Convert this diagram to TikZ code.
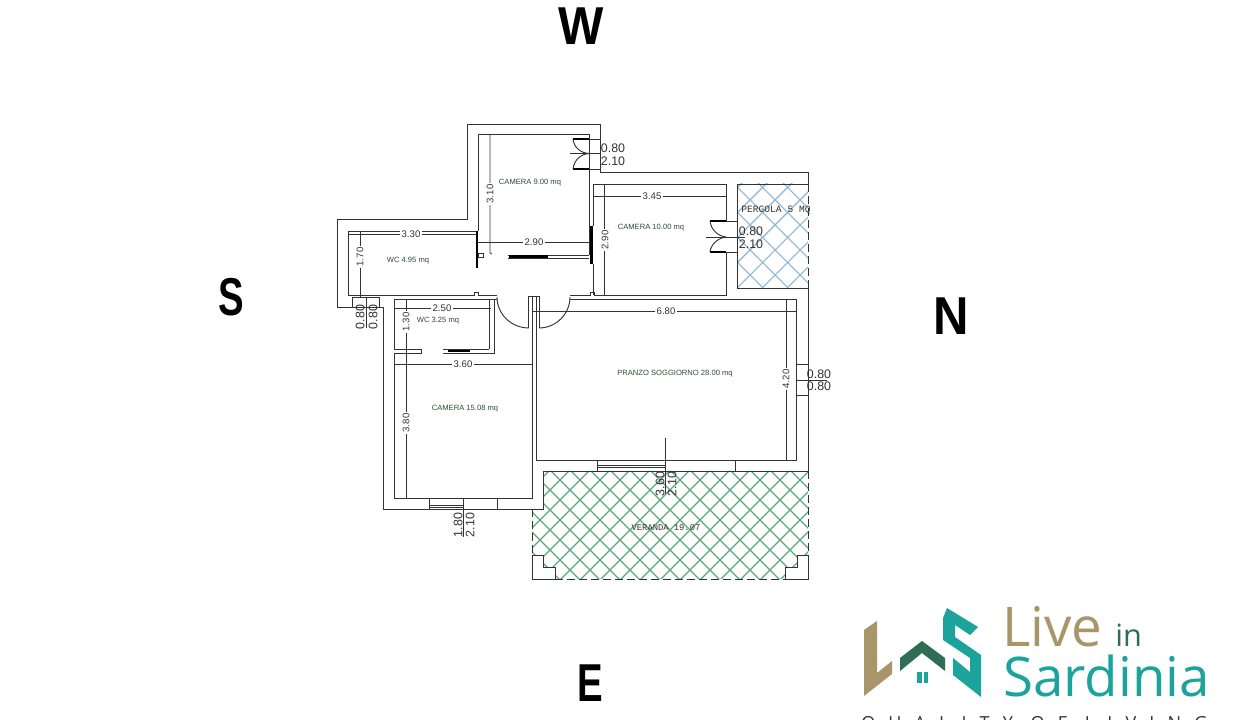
\documentclass[tikz,border=0pt]{standalone}
\usepackage{xcolor}
\usepackage{fontspec}
\setmainfont{Liberation Sans}
\newfontfamily\cadfont{Liberation Mono}
\newfontfamily\logofont{Open Sans}
\definecolor{roomtext}{HTML}{2F4B3A}
\definecolor{wallgray}{HTML}{333333}
\definecolor{pergolablue}{HTML}{8DB6D6}
\definecolor{verandagreen}{HTML}{5BA87C}
\definecolor{logogold}{HTML}{A8956A}
\definecolor{logoteal}{HTML}{1BA39C}
\definecolor{logogreen}{HTML}{2F6D55}
\tikzset{
    wall/.style={draw=wallgray,line width=0.7pt},
    thinline/.style={draw=wallgray,line width=0.55pt},
    thickbar/.style={draw=black,line width=1.8pt},
    dashedge/.style={draw=wallgray,line width=0.7pt,dash pattern=on 6pt off 3pt},
    dimlabel/.style={font=\fontsize{7.2}{8}\selectfont,text=wallgray,fill=white,inner sep=1.5pt},
    doorlabel/.style={font=\fontsize{9.3}{10}\selectfont,text=wallgray,inner sep=0pt},
    roomlabel/.style={font=\fontsize{5.7}{7}\selectfont,text=roomtext,inner sep=0pt},
    cadlabel/.style={font=\cadfont\fontsize{6.6}{8}\selectfont,text=wallgray,inner sep=0pt},
    compass/.style={font=\bfseries\fontsize{40}{44}\selectfont,text=black,inner sep=0pt},
    logotext/.style={font=\logofont\fontsize{41}{44}\selectfont,inner sep=0pt,anchor=base west}
}
\begin{document}
\begin{tikzpicture}[x=0.75pt,y=-0.75pt]
                \useasboundingbox (0,0) rectangle (1240,720);
                \fill[white] (0,0) rectangle (1240,720);

                \begin{scope}
                    \clip (737,184) rectangle (808,288);
                    \foreach \k in {-300,-275,...,1300} {
                        \draw[pergolablue,line width=0.8pt] (\k,0) -- ++(720,720);
                        \draw[pergolablue,line width=0.8pt] (\k,0) -- ++(-720,720);
                    }
                \end{scope}
                \begin{scope}
                    \clip (543,471) -- (808,471) -- (808,555) -- (797,555) -- (797,567) -- (785,567) -- (785,579) -- (555,579) -- (555,567) -- (543,567) -- (543,555) -- (532,555) -- (532,509) -- (543,509) -- cycle;
                    \foreach \k in {-300,-280,...,1500} {
                        \draw[verandagreen,line width=0.95pt] (\k,0) -- ++(720,720);
                        \draw[verandagreen,line width=0.95pt] (\k,0) -- ++(-720,720);
                    }
                \end{scope}

                \draw[wall] (352,307) -- (337,307) -- (337,219) -- (467,219) -- (467,124) -- (600,124) -- (600,172) -- (808,172) -- (808,184);
                \draw[wall] (352,307) -- (383,307) -- (383,509) -- (543,509) -- (543,471) -- (808,471);
                \draw[wall] (808,288) -- (808,471);
                \draw[wall] (352,297) rectangle (379,307);

                \draw[wall] (477,231) -- (348,231) -- (348,295) -- (474,295) -- (474,292) -- (478,292) -- (478,295) -- (497,295);
                \draw[wall] (478,231) -- (478,134) -- (589,134) -- (589,255);
                \draw[wall] (394,299) -- (497,299);
                \draw[wall] (394,299) -- (394,349) -- (421,349) -- (421,353) -- (394,353) -- (394,498) -- (532,498) -- (532,296);
                \draw[wall] (489,299) -- (489,349);
                \draw[wall] (494,299) -- (494,353) -- (489,353);
                \draw[wall] (443,349) -- (489,349);
                \draw[thinline] (443,353) -- (489,353);
                \draw[thickbar] (448,351) -- (470,351);
                \draw[wall] (528,328) -- (528,296) -- (539,296) -- (539,328);
                \draw[wall] (536,296) -- (536,460) -- (796,460) -- (796,299) -- (570,299);
                \draw[wall] (570,295) -- (590,295) -- (590,292) -- (594,292) -- (594,295) -- (726,295) -- (726,252);
                \draw[wall] (726,221) -- (726,184) -- (593,184) -- (593,226);
                \draw[wall] (593,264) -- (593,295);

                \draw[wall] (529,328) .. controls (511,328) and (497,314) .. (497,297);
                \draw[wall] (539,328) .. controls (556,328) and (570,314) .. (570,297);

                \draw[wall] (478,253) rectangle (483,257);
                \draw[thinline] (508,255) -- (589,255);
                \draw[thinline] (508,258) -- (589,258);
                \draw[thickbar] (509,256.5) -- (548,256.5);
                \draw[thickbar] (477,231) -- (477,268);
                \draw[thickbar] (591.5,226) -- (591.5,264);

                \draw[wall] (589,139) -- (600,139);
                \draw[wall] (589,169) -- (600,169);
                \draw[thinline] (570,153.5) -- (601,153.5);
                \draw[line width=1.1pt] (573,139) -- (589,139);
                \draw[line width=1.1pt] (573,169) -- (589,169);
                \draw[wall] (573,139) .. controls (574,148) and (581,153) .. (589,153.5);
                \draw[wall] (573,169) .. controls (574,160) and (581,154) .. (589,153.5);

                \draw[wall] (726,221) -- (737,221);
                \draw[wall] (726,252) -- (737,252);
                \draw[thinline] (706,237) -- (745,237);
                \draw[line width=1.1pt] (710,221) -- (726,221);
                \draw[line width=1.1pt] (710,252) -- (726,252);
                \draw[wall] (710,221) .. controls (711,230) and (718,236) .. (726,237);
                \draw[wall] (710,252) .. controls (711,244) and (718,238) .. (726,237);

                \draw[wall] (808,184) -- (737,184) -- (737,288) -- (808,288);
                \draw[dashedge] (808,184) -- (808,288);

                \draw[wall] (597,460) -- (597,471);
                \draw[wall] (735,460) -- (735,471);
                \draw[thinline] (597,467) -- (665,467);
                \draw[thinline] (597,465) -- (665,465);
                \draw[thinline] (665.5,438) -- (665.5,494);

                \draw[wall] (429,498) -- (429,509);
                \draw[wall] (497,498) -- (497,509);
                \draw[thinline] (429,505) -- (463,505);
                \draw[thinline] (429,507) -- (463,507);
                \draw[thinline] (463.5,498) -- (463.5,537);

                \draw[wall] (796,364) rectangle (808,395);
                \draw[line width=1.1pt,draw=wallgray] (796.5,364) -- (796.5,395);
                \draw[thinline] (796,380) -- (827,380);
                \draw[thinline] (366,297) -- (366,328);

                \draw[dashedge] (532,509) -- (532,555);
                \draw[dashedge] (808,471) -- (808,555);
                \draw[dashedge] (555,579) -- (785,579);
                \draw[wall] (532,555) -- (543,555) -- (543,567) -- (555,567) -- (555,579) -- (532,579) -- cycle;
                \draw[wall] (808,555) -- (797,555) -- (797,567) -- (785,567) -- (785,579) -- (808,579) -- cycle;

                \draw[thinline] (348,234) -- (477,234);
                \draw[thinline] (360,231) -- (360,297);
                \draw[thinline] (490,134) -- (490,253) -- (492,254);
                \draw[thinline] (478,242) -- (590,242);
                \draw[thinline] (593,196) -- (726,196);
                \draw[thinline] (604,184) -- (604,296);
                \draw[thinline] (532,311) -- (797,311);
                \draw[thinline] (786,299) -- (786,460);
                \draw[thinline] (394,308) -- (491,308);
                \draw[thinline] (406,299) -- (406,498);
                \draw[thinline] (394,364) -- (533,364);

                \node[dimlabel] (dimwcwide) at (411,234) {3.30};
                \node[dimlabel,rotate=90] (dimwchigh) at (360,257) {1.70};
                \node[dimlabel,rotate=90] (dimcamninehigh) at (490,194) {3.10};
                \node[dimlabel] (dimcamninewide) at (534,242) {2.90};
                \node[dimlabel] (dimcamtenwide) at (652,196) {3.45};
                \node[dimlabel,rotate=90] (dimcamtenhigh) at (605,240) {2.90};
                \node[dimlabel] (dimlivingwide) at (666,311) {6.80};
                \node[dimlabel,rotate=90] (dimlivinghigh) at (786,379) {4.20};
                \node[dimlabel] (dimwcsmallwide) at (442,308) {2.50};
                \node[dimlabel,rotate=90] (dimwcsmallhigh) at (406,322) {1.30};
                \node[dimlabel] (dimcambigwide) at (463,364) {3.60};
                \node[dimlabel,rotate=90] (dimcambighigh) at (406,423) {3.80};

                \node[doorlabel] (doorninewide) at (613,148) {0.80};
                \node[doorlabel] (doorninehigh) at (613,161) {2.10};
                \node[doorlabel] (doortenwide) at (751,231) {0.80};
                \node[doorlabel] (doortenhigh) at (751,244) {2.10};
                \node[doorlabel] (winrightwide) at (819,374) {0.80};
                \node[doorlabel] (winrighthigh) at (819,386) {0.80};
                \node[doorlabel,rotate=90] (winsouthwide) at (360,317) {0.80};
                \node[doorlabel,rotate=90] (winsouthhigh) at (373,317) {0.80};
                \node[doorlabel,rotate=90] (winbigwide) at (458,525) {1.80};
                \node[doorlabel,rotate=90] (winbighigh) at (470,525) {2.10};
                \node[doorlabel,rotate=90] (winlivingwide) at (660,484) {3.60};
                \node[doorlabel,rotate=90] (winlivinghigh) at (672,484) {2.10};

                \node[roomlabel] (camnine) at (530,183) {CAMERA 9.00 mq};
                \node[roomlabel] (camten) at (651,228) {CAMERA 10.00 mq};
                \node[roomlabel] (wcbig) at (408,261) {WC 4.95 mq};
                \node[roomlabel] (wcsmall) at (438,321) {WC 3.25 mq};
                \node[roomlabel] (cambig) at (465,409) {CAMERA 15.08 mq};
                \node[roomlabel] (living) at (675,374) {PRANZO SOGGIORNO 28.00 mq};
                \node[cadlabel] (veranda) at (666,528) {VERANDA 19.07};
                \node[cadlabel,font=\cadfont\fontsize{7.2}{8}\selectfont] (pergola) at (776,210) {PERGOLA 5 MQ};

                \node[compass,xscale=0.9] (west) at (581,26) {W};
                \node[compass,xscale=0.72] (south) at (231,297) {S};
                \node[compass,xscale=0.92] (north) at (951,316) {N};
                \node[compass,xscale=0.72] (east) at (590,683) {E};

                \fill[logogold] (864,630) -- (877,621) -- (877,673) -- (892,661) -- (892,674) -- (864,696) -- cycle;
                \fill[logogreen] (900,658) -- (922,641) -- (945,658) -- (945,671) -- (922,653) -- (900,671) -- cycle;
                \fill[logoteal] (917,672) rectangle (922,683);
                \fill[logoteal] (924,672) rectangle (928,683);
                \fill[logoteal] (947,608) -- (978,627) -- (970,635) -- (955,625) -- (955,637) -- (981,655) -- (981,697) -- (953,675) -- (953,658) -- (970,672) -- (970,658) -- (943,640) -- (943,618) -- cycle;
                \node[logotext,text=logogold] (logolive) at (1002,646) {Live};
                \node[logotext,text=logogreen,font=\logofont\fontsize{23}{24}\selectfont] (logoin) at (1115,646) {in};
                \node[logotext,text=logoteal] (logosardinia) at (1003,696) {Sardinia};
                \node[logotext,text=wallgray,font=\logofont\fontsize{13.5}{15}\selectfont\addfontfeature{LetterSpace=73}] (logoquality) at (861,729) {QUALITY OF LIVING};
\end{tikzpicture}
\end{document}
